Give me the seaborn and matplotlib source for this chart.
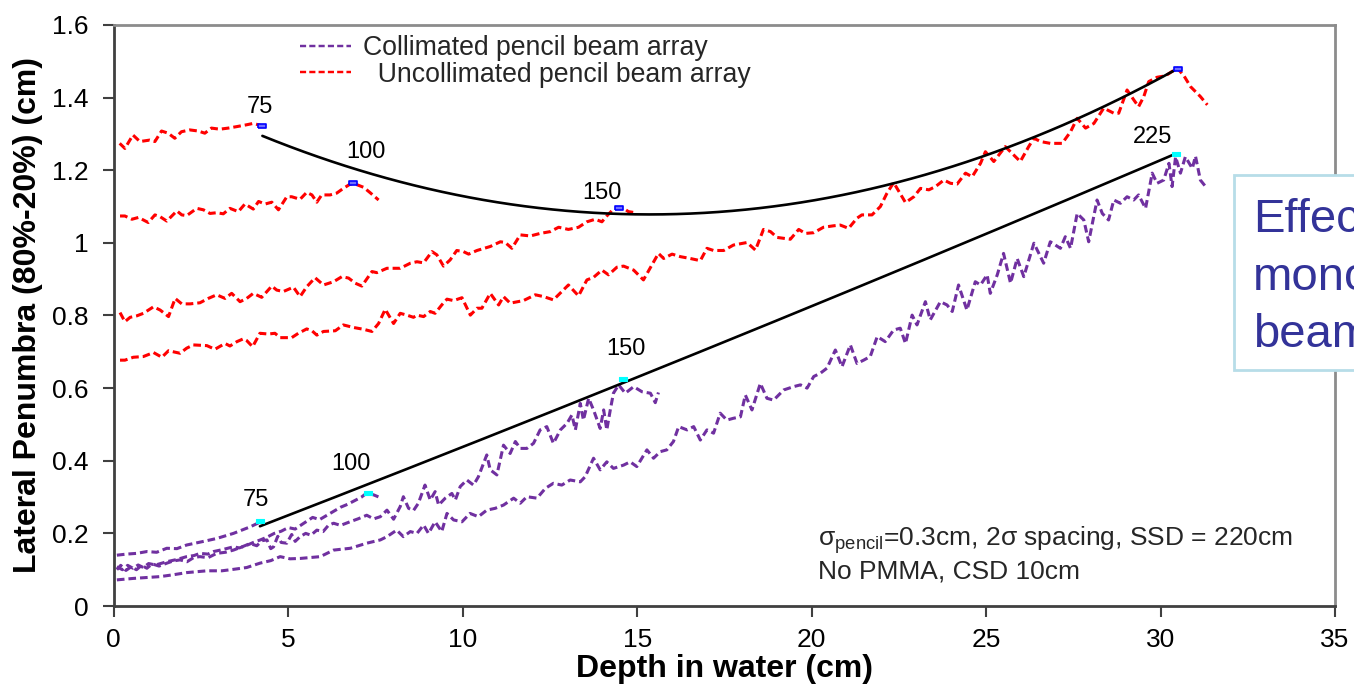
import numpy as np
import matplotlib
matplotlib.use("Agg")
import matplotlib.pyplot as plt
from matplotlib.lines import Line2D
from matplotlib.patches import Rectangle
import seaborn as sns

# ---------------- data: lateral penumbra vs depth ----------------
# Uncollimated pencil beam array (red), energies 75 / 100 / 150 / 225
red_75_x = [0.17, 0.32, 0.55, 0.75, 1.03, 1.18, 1.37, 1.56, 1.75, 1.94, 2.18, 2.42, 2.61, 2.80,
            3.04, 3.28, 3.52, 3.80, 4.00, 4.26]
red_75_y = [1.274, 1.260, 1.297, 1.279, 1.283, 1.279, 1.308, 1.302, 1.288, 1.306, 1.311, 1.308,
            1.302, 1.316, 1.313, 1.316, 1.320, 1.325, 1.329, 1.322]

red_100_x = [0.18, 0.32, 0.52, 0.71, 0.99, 1.18, 1.33, 1.52, 1.81, 1.95, 2.09, 2.38, 2.57, 2.76,
             2.95, 3.14, 3.33, 3.57, 3.76, 4.00, 4.15, 4.34, 4.53, 4.72, 4.96, 5.10, 5.34, 5.53,
             5.68, 5.82, 5.96, 6.20, 6.39, 6.58, 6.78, 6.92, 7.16, 7.35, 7.59]
red_100_y = [1.074, 1.074, 1.065, 1.070, 1.056, 1.077, 1.072, 1.060, 1.088, 1.077, 1.075, 1.095,
             1.091, 1.081, 1.083, 1.080, 1.095, 1.086, 1.107, 1.093, 1.114, 1.107, 1.112, 1.091,
             1.127, 1.127, 1.120, 1.139, 1.132, 1.112, 1.132, 1.132, 1.137, 1.150, 1.162, 1.162,
             1.153, 1.138, 1.118]

red_150_x = [0.18, 0.32, 0.47, 0.66, 0.85, 1.14, 1.33, 1.57, 1.76, 1.95, 2.19, 2.47, 2.71, 2.95,
             3.19, 3.38, 3.62, 3.81, 4.00, 4.24, 4.53, 4.67, 4.86, 5.15, 5.34, 5.53, 5.77, 6.01,
             6.30, 6.54, 6.73, 6.92, 7.11, 7.40, 7.54, 7.83, 8.21, 8.50, 8.69, 8.88, 9.12, 9.26,
             9.45, 9.64, 9.83, 10.02, 10.17, 10.41, 10.79, 11.08, 11.22, 11.41, 11.65, 11.94,
             12.22, 12.51, 12.75, 13.03, 13.32, 13.56, 13.80, 13.99, 14.13, 14.28, 14.42, 14.61,
             14.75, 14.95]
red_150_y = [0.808, 0.783, 0.795, 0.799, 0.806, 0.824, 0.815, 0.797, 0.847, 0.832, 0.832, 0.835,
             0.847, 0.857, 0.847, 0.861, 0.838, 0.847, 0.861, 0.850, 0.881, 0.870, 0.866, 0.878,
             0.852, 0.879, 0.904, 0.884, 0.893, 0.907, 0.903, 0.889, 0.881, 0.921, 0.918, 0.930,
             0.930, 0.944, 0.948, 0.945, 0.976, 0.967, 0.936, 0.953, 0.979, 0.976, 0.969, 0.979,
             0.990, 1.003, 1.001, 0.985, 1.022, 1.019, 1.026, 1.031, 1.043, 1.037, 1.043, 1.058,
             1.065, 1.058, 1.074, 1.089, 1.095, 1.095, 1.086, 1.083]

red_225_x = [0.18, 0.32, 0.56, 0.85, 1.14, 1.38, 1.57, 1.90, 2.09, 2.28, 2.67, 2.90, 3.19, 3.33,
             3.53, 3.72, 3.81, 3.98, 4.19, 4.43, 4.62, 4.77, 5.10, 5.29, 5.53, 5.68, 5.82, 6.01,
             6.35, 6.58, 6.87, 7.16, 7.40, 7.59, 7.78, 8.02, 8.21, 8.40, 8.59, 8.69, 8.88, 9.07,
             9.21, 9.40, 9.55, 9.74, 9.98, 10.22, 10.41, 10.55, 10.79, 11.03, 11.17, 11.36, 11.74,
             12.08, 12.32, 12.60, 12.84, 13.03, 13.32, 13.56, 13.75, 13.99, 14.18, 14.42, 14.61,
             14.90, 15.18, 15.42, 15.61, 15.76, 16.00, 16.24, 16.52, 16.81, 17.00, 17.19, 17.48,
             17.76, 18.15, 18.39, 18.62, 18.82, 19.01, 19.39, 19.63, 19.82, 20.06, 20.34, 20.63,
             20.82, 21.06, 21.30, 21.44, 21.73, 21.97, 22.15, 22.35, 22.69, 22.93, 23.12, 23.36,
             23.55, 23.79, 23.98, 24.17, 24.41, 24.60, 24.84, 24.98, 25.22, 25.55, 25.79, 25.98,
             26.22, 26.37, 26.56, 26.84, 27.18, 27.42, 27.61, 27.85, 28.09, 28.37, 28.66, 28.80,
             29.04, 29.23, 29.37, 29.52, 29.66, 29.90, 30.14, 30.33, 30.48, 30.67, 30.86, 31.14,
             31.34]
red_225_y = [0.677, 0.677, 0.685, 0.687, 0.698, 0.685, 0.703, 0.696, 0.710, 0.719, 0.717, 0.707,
             0.723, 0.716, 0.728, 0.736, 0.731, 0.714, 0.751, 0.749, 0.751, 0.739, 0.739, 0.751,
             0.763, 0.758, 0.746, 0.756, 0.758, 0.774, 0.767, 0.762, 0.756, 0.778, 0.817, 0.778,
             0.806, 0.801, 0.795, 0.801, 0.797, 0.811, 0.806, 0.829, 0.845, 0.841, 0.849, 0.801,
             0.820, 0.820, 0.861, 0.829, 0.852, 0.834, 0.841, 0.857, 0.852, 0.843, 0.866, 0.884,
             0.854, 0.898, 0.905, 0.925, 0.912, 0.933, 0.936, 0.925, 0.898, 0.939, 0.971, 0.957,
             0.969, 0.962, 0.957, 0.951, 0.985, 0.979, 0.979, 0.994, 1.001, 0.980, 1.037, 1.031,
             1.015, 1.010, 1.037, 1.026, 1.028, 1.043, 1.047, 1.049, 1.040, 1.068, 1.077, 1.077,
             1.100, 1.135, 1.166, 1.111, 1.127, 1.150, 1.146, 1.155, 1.173, 1.164, 1.162, 1.192,
             1.182, 1.219, 1.251, 1.224, 1.265, 1.242, 1.224, 1.265, 1.288, 1.279, 1.274, 1.274,
             1.306, 1.343, 1.316, 1.329, 1.371, 1.357, 1.357, 1.421, 1.394, 1.375, 1.403, 1.444,
             1.456, 1.460, 1.472, 1.481, 1.460, 1.430, 1.403, 1.380]

# Collimated pencil beam array (purple)
pur_75_x = [0.09, 0.37, 0.66, 0.95, 1.23, 1.52, 1.81, 2.09, 2.38, 2.67, 2.95, 3.19, 3.43, 3.67,
            3.91, 4.15]
pur_75_y = [0.140, 0.143, 0.145, 0.150, 0.148, 0.159, 0.158, 0.168, 0.174, 0.180, 0.186, 0.193,
            0.200, 0.209, 0.218, 0.229]

pur_100_x = [0.09, 0.25, 0.40, 0.55, 0.70, 0.85, 1.00, 1.20, 1.52, 1.80, 2.09, 2.30, 2.47, 2.70,
             2.86, 3.10, 3.43, 3.60, 3.81, 4.00, 4.20, 4.40, 4.60, 4.80, 5.00, 5.20, 5.40, 5.70,
             5.90, 6.20, 6.50, 6.70, 6.90, 7.10, 7.25, 7.45, 7.60]
pur_100_y = [0.108, 0.100, 0.112, 0.104, 0.113, 0.106, 0.117, 0.113, 0.122, 0.128, 0.136, 0.139,
             0.145, 0.143, 0.150, 0.155, 0.163, 0.160, 0.167, 0.175, 0.182, 0.190, 0.200, 0.206,
             0.216, 0.212, 0.225, 0.244, 0.238, 0.255, 0.272, 0.280, 0.290, 0.300, 0.311, 0.306,
             0.300]

pur_150_x = [0.09, 0.20, 0.35, 0.50, 0.65, 0.80, 0.95, 1.10, 1.30, 1.52, 1.70, 1.90, 2.10, 2.30,
             2.47, 2.70, 2.95, 3.20, 3.43, 3.65, 3.91, 4.10, 4.25, 4.39, 4.50, 4.58, 4.70, 4.80,
             4.96, 5.10, 5.20, 5.34, 5.50, 5.65, 5.82, 6.00, 6.15, 6.30, 6.50, 6.77, 7.00, 7.25,
             7.45, 7.64, 7.83, 8.02, 8.21, 8.30, 8.45, 8.59, 8.73, 8.92, 9.07, 9.21, 9.31, 9.50,
             9.69, 9.79, 9.93, 10.12, 10.31, 10.45, 10.69, 10.79, 10.98, 11.17, 11.36, 11.51,
             11.65, 11.84, 12.03, 12.22, 12.41, 12.60, 12.80, 12.99, 13.13, 13.23, 13.37, 13.46,
             13.61, 13.75, 13.94, 14.04, 14.13, 14.23, 14.32, 14.47, 14.66, 14.90, 15.14, 15.38,
             15.52, 15.61]
pur_150_y = [0.100, 0.112, 0.098, 0.108, 0.100, 0.112, 0.104, 0.116, 0.110, 0.118, 0.124, 0.127,
             0.122, 0.134, 0.136, 0.133, 0.145, 0.148, 0.154, 0.162, 0.172, 0.166, 0.180, 0.182,
             0.158, 0.163, 0.192, 0.175, 0.173, 0.197, 0.178, 0.191, 0.200, 0.195, 0.209, 0.205,
             0.222, 0.228, 0.222, 0.232, 0.240, 0.250, 0.240, 0.246, 0.264, 0.239, 0.274, 0.301,
             0.269, 0.263, 0.283, 0.333, 0.292, 0.315, 0.278, 0.297, 0.310, 0.292, 0.329, 0.347,
             0.333, 0.356, 0.416, 0.375, 0.361, 0.443, 0.420, 0.453, 0.434, 0.434, 0.448, 0.485,
             0.494, 0.448, 0.485, 0.503, 0.526, 0.485, 0.558, 0.512, 0.572, 0.540, 0.489, 0.540,
             0.485, 0.540, 0.586, 0.609, 0.586, 0.604, 0.590, 0.586, 0.560, 0.588]

pur_225_x = [0.09, 0.56, 1.33, 1.70, 2.09, 2.67, 3.10, 3.43, 3.81, 4.19, 4.50, 4.77, 5.05, 5.34,
             5.92, 6.30, 6.78, 7.25, 7.64, 7.83, 8.11, 8.30, 8.50, 8.69, 8.88, 9.02, 9.21, 9.40,
             9.55, 9.74, 9.98, 10.21, 10.45, 10.69, 10.93, 11.17, 11.46, 11.65, 11.84, 12.13,
             12.37, 12.60, 12.84, 13.08, 13.37, 13.51, 13.75, 13.94, 14.13, 14.32, 14.61, 14.80,
             14.99, 15.28, 15.47, 15.66, 15.85, 16.04, 16.19, 16.43, 16.62, 16.81, 17.00, 17.19,
             17.38, 17.57, 17.76, 17.96, 18.10, 18.29, 18.53, 18.72, 18.91, 19.20, 19.48, 19.68,
             19.87, 20.06, 20.25, 20.44, 20.68, 20.87, 21.11, 21.30, 21.49, 21.68, 21.88, 22.11,
             22.35, 22.54, 22.69, 22.88, 23.02, 23.26, 23.40, 23.69, 23.88, 24.03, 24.21, 24.45,
             24.69, 24.84, 25.03, 25.12, 25.32, 25.50, 25.70, 25.89, 26.08, 26.37, 26.65, 26.84,
             27.13, 27.27, 27.42, 27.61, 27.80, 27.94, 28.18, 28.33, 28.51, 28.66, 28.85, 29.04,
             29.23, 29.37, 29.57, 29.76, 29.90, 30.09, 30.24, 30.33, 30.43, 30.57, 30.71, 30.91,
             31.00, 31.14, 31.29]
pur_225_y = [0.072, 0.076, 0.081, 0.086, 0.092, 0.097, 0.097, 0.101, 0.106, 0.118, 0.125, 0.136,
             0.130, 0.131, 0.136, 0.154, 0.159, 0.173, 0.182, 0.191, 0.209, 0.191, 0.205, 0.200,
             0.223, 0.200, 0.232, 0.205, 0.255, 0.237, 0.232, 0.255, 0.246, 0.264, 0.269, 0.278,
             0.297, 0.283, 0.301, 0.297, 0.324, 0.338, 0.333, 0.347, 0.342, 0.356, 0.407, 0.375,
             0.397, 0.379, 0.388, 0.397, 0.384, 0.430, 0.407, 0.425, 0.430, 0.453, 0.494, 0.485,
             0.494, 0.457, 0.485, 0.476, 0.531, 0.512, 0.517, 0.521, 0.581, 0.540, 0.613, 0.572,
             0.567, 0.595, 0.604, 0.609, 0.600, 0.632, 0.641, 0.655, 0.705, 0.659, 0.719, 0.668,
             0.677, 0.687, 0.742, 0.728, 0.760, 0.765, 0.723, 0.801, 0.774, 0.838, 0.788, 0.838,
             0.829, 0.811, 0.884, 0.815, 0.893, 0.884, 0.912, 0.861, 0.912, 0.971, 0.889, 0.957,
             0.907, 0.999, 0.944, 1.003, 0.985, 1.017, 0.985, 1.081, 1.063, 1.003, 1.118, 1.081,
             1.063, 1.118, 1.109, 1.127, 1.118, 1.132, 1.095, 1.192, 1.164, 1.173, 1.219, 1.155,
             1.237, 1.192, 1.237, 1.205, 1.239, 1.173, 1.155]

# Penumbra maxima (end of range) for each energy
energies = ["75", "100", "150", "225"]
red_peak_x = [4.26, 6.87, 14.49, 30.51]
red_peak_y = [1.322, 1.164, 1.095, 1.479]
pur_peak_x = [4.19, 7.30, 14.59, 30.43]
pur_peak_y = [0.235, 0.311, 0.625, 1.244]

legend_labels = ["Collimated pencil beam array", "  Uncollimated pencil beam array"]
note_line1 = "σ$_{\\mathrm{pencil}}$=0.3cm, 2σ spacing, SSD = 220cm"
note_line2 = "No PMMA, CSD 10cm"
box_lines = ["Effective", "monoenergetic", "beams"]

# ---------------- styling ----------------
sns.set_theme(style="white")
plt.rcParams["font.family"] = ["Liberation Sans", "DejaVu Sans"]
plt.rcParams["mathtext.fontset"] = "custom"
plt.rcParams["mathtext.rm"] = "Liberation Sans"
plt.rcParams["mathtext.it"] = "Liberation Sans:italic"
plt.rcParams["mathtext.bf"] = "Liberation Sans:bold"

RED = "#FF0000"
PURPLE = "#7030A0"
DASH = (0, (2.5, 1.3))
LW = 2.2

fig = plt.figure(figsize=(13.54, 6.84), dpi=100)
fig.patch.set_facecolor("white")
ax = fig.add_axes([0.0840, 0.1140, 0.9020, 0.8495])

red_curves = [(red_75_x, red_75_y), (red_100_x, red_100_y),
              (red_150_x, red_150_y), (red_225_x, red_225_y)]
pur_curves = [(pur_75_x, pur_75_y), (pur_100_x, pur_100_y),
              (pur_150_x, pur_150_y), (pur_225_x, pur_225_y)]

for xs, ys in red_curves:
    sns.lineplot(x=xs, y=ys, ax=ax, color=RED, linewidth=LW, linestyle=DASH,
                 estimator=None, sort=False, legend=False)
for xs, ys in pur_curves:
    sns.lineplot(x=xs, y=ys, ax=ax, color=PURPLE, linewidth=LW, linestyle=DASH,
                 estimator=None, sort=False, legend=False)

# quadratic trends through the maxima
for px, py in [(red_peak_x, red_peak_y), (pur_peak_x, pur_peak_y)]:
    coef = np.polyfit(px, py, 2)
    xx = np.linspace(min(px), max(px), 200)
    sns.lineplot(x=xx, y=np.polyval(coef, xx), ax=ax, color="black", linewidth=1.9,
                 estimator=None, sort=False, legend=False)

rect = [(-1, -0.5), (1, -0.5), (1, 0.5), (-1, 0.5), (-1, -0.5)]
ax.plot(red_peak_x, red_peak_y, ls="none", marker=rect, ms=6, mfc="#7070ff",
        mec="#0000ff", mew=1.2, zorder=5)
ax.plot(pur_peak_x, pur_peak_y, ls="none", marker=rect, ms=6, mfc="#00ffff",
        mec="#00ffff", mew=0.8, zorder=5)

# energy labels
upper_lbl = [(4.20, 1.358), (7.24, 1.233), (14.00, 1.120), (29.78, 1.274)]
lower_lbl = [(4.07, 0.275), (6.80, 0.375), (14.68, 0.691)]
for (tx, ty), s in zip(upper_lbl, energies):
    ax.text(tx, ty, s, ha="center", va="baseline", fontsize=17, color="black")
for (tx, ty), s in zip(lower_lbl, energies[:3]):
    ax.text(tx, ty, s, ha="center", va="baseline", fontsize=17, color="black")

ax.text(20.18, 0.165, note_line1, ha="left", va="baseline", fontsize=19)
ax.text(20.18, 0.076, note_line2, ha="left", va="baseline", fontsize=19)

# axes
ax.set_xlim(0, 35)
ax.set_ylim(0, 1.6)
xt = np.arange(0, 36, 5)
yt = np.round(np.arange(0, 1.61, 0.2), 1)
ax.set_xticks(xt)
ax.set_xticklabels([f"{v:g}" for v in xt])
ax.set_yticks(yt)
ax.set_yticklabels([f"{v:g}" for v in yt])
ax.tick_params(axis="both", which="major", direction="out", length=8, width=1.5,
               color="#404040", labelsize=19, labelcolor="black",
               bottom=True, left=True, top=False, right=False)
ax.tick_params(axis="x", pad=8)
ax.tick_params(axis="y", pad=10)
for side in ["left", "bottom"]:
    ax.spines[side].set_color("#404040")
    ax.spines[side].set_linewidth(2.0)
for side in ["top", "right"]:
    ax.spines[side].set_color("#8c8c8c")
    ax.spines[side].set_linewidth(2.0)
ax.grid(False)

ax.set_xlabel("Depth in water (cm)", fontsize=23, fontweight="bold", color="black")
ax.set_ylabel("Lateral Penumbra (80%-20%) (cm)", fontsize=23, fontweight="bold", color="black")
ax.xaxis.set_label_coords(0.5, -0.082)
ax.yaxis.set_label_coords(-0.058, 0.5)

handles = [Line2D([], [], color=PURPLE, lw=LW * 0.8, linestyle=DASH),
           Line2D([], [], color=RED, lw=LW * 0.8, linestyle=DASH)]
leg = ax.legend(handles, legend_labels, loc="upper left",
                bbox_to_anchor=(300 / 1354, 1 - 35 / 684), bbox_transform=fig.transFigure,
                frameon=False, fontsize=19.2, handlelength=1.9, handletextpad=0.45,
                labelspacing=0.02, borderpad=0, borderaxespad=0)

# side text box, running off the right edge of the figure
fig.add_artist(Rectangle((1234 / 1354, 1 - 370 / 684), 0.2, 195 / 684,
                         transform=fig.transFigure, facecolor="white",
                         edgecolor="#B7DDE8", linewidth=2.0, zorder=10, clip_on=False))
for i, s in enumerate(box_lines):
    fig.text(1253 / 1354, 1 - (232 + 57.5 * i) / 684, s, ha="left", va="baseline",
             fontsize=34, color="#333399", zorder=11)

fig.savefig("out.png", dpi=100, facecolor="white")
